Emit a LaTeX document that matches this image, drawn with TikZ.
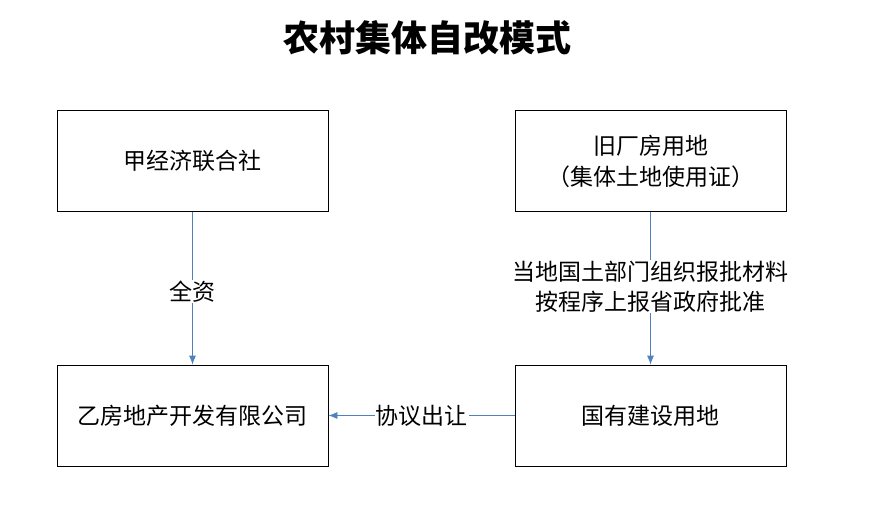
\documentclass[tikz,border=0pt]{standalone}
\usepackage{fontspec}
\newfontfamily\cjk{Noto Sans CJK SC}
\usetikzlibrary{arrows.meta}
\definecolor{linkblue}{RGB}{79,129,189}
\tikzset{
  box/.style={draw=black, thick, minimum width=271pt, minimum height=101pt, font=\cjk\fontsize{23pt}{31pt}\selectfont, align=center},
  link/.style={draw=linkblue, thick, -{Latex[length=9pt,width=7pt]}},
  tag/.style={fill=white, font=\cjk\fontsize{23pt}{30pt}\selectfont, align=center, inner sep=1pt}
}
\begin{document}
\begin{tikzpicture}[x=1pt,y=-1pt]
        \useasboundingbox (0,0) rectangle (873,511);

        \node (title) at (427,38) {\cjk\bfseries\fontsize{36pt}{40pt}\selectfont 农村集体自改模式};

        \node (jia) [box] at (192.5,161) {甲经济联合社};
        \node (old) [box] at (650.5,161) {旧厂房用地\\（集体土地使用证）};
        \node (yi) [box] at (192.5,415.5) {乙房地产开发有限公司};
        \node (state) [box] at (650.5,415.5) {国有建设用地};

        \draw [link] (jia) -- (yi) node [tag, pos=0.52] {全资};
        \draw [link] (old) -- (state) node [tag, pos=0.49] {当地国土部门组织报批材料\\按程序上报省政府批准};
        \draw [link] (state) -- (yi) node [tag, pos=0.5] {协议出让};
\end{tikzpicture}
\end{document}
